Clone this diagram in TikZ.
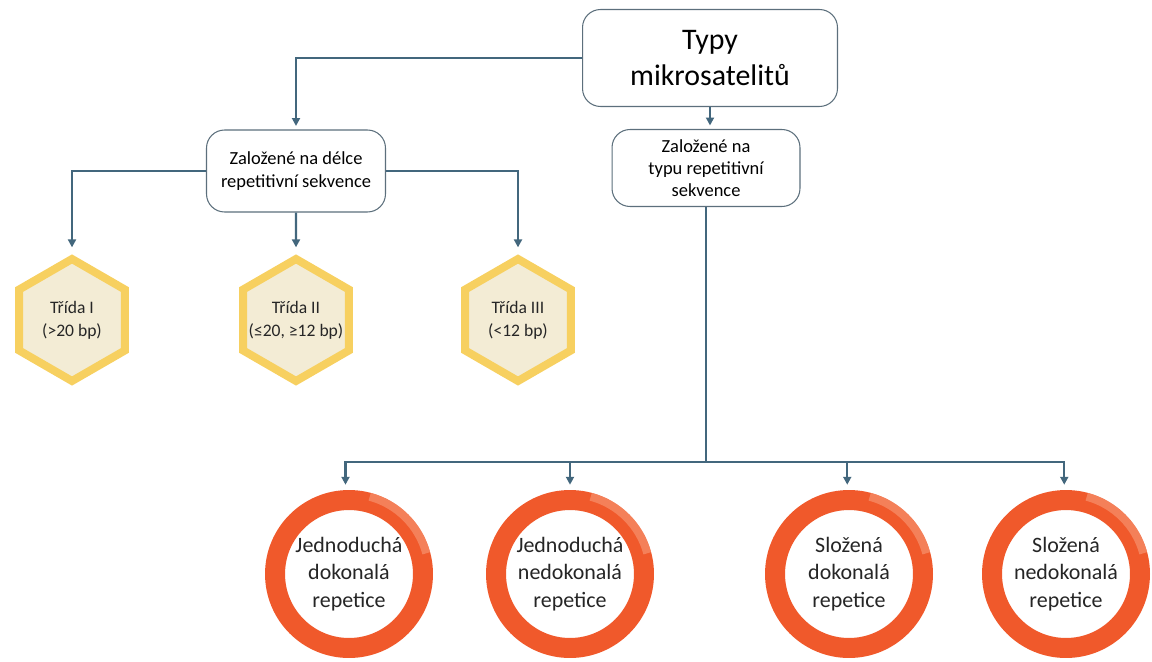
\documentclass[tikz,border=0pt]{standalone}
\usepackage{fontspec}
\setmainfont{Carlito}
\usetikzlibrary{positioning, arrows.meta, calc, shapes.geometric}
\definecolor{myline}{HTML}{43677D}
\definecolor{myboxdraw}{HTML}{5C6F7C}
\definecolor{myhexdraw}{HTML}{F7D060}
\definecolor{myhexfill}{HTML}{F3ECD5}
\definecolor{myring}{HTML}{F0592B}
\definecolor{myringlight}{HTML}{F79A78}

\begin{document}
\begin{tikzpicture}[
  x=0.02cm, y=-0.02cm,
  box/.style={rectangle, rounded corners=0.36cm, draw=myboxdraw, fill=white, line width=0.6pt,
    align=center, inner sep=0pt},
  hexa/.style={regular polygon, regular polygon sides=6, shape border rotate=30, draw=myhexdraw,
    fill=myhexfill, line width=0.16cm, minimum size=2.44cm, align=center, inner sep=-10pt,
    text=black!85, font=\fontsize{10}{13}\selectfont},
  ring/.style={circle, draw=myring, fill=white, line width=0.4cm, minimum size=2.96cm,
    align=center, inner sep=-10pt, text=black!85, font=\fontsize{12.5}{15.6}\selectfont},
  arr/.style={-{Triangle[length=4.5pt, width=4.5pt]}, myline, line width=1.4pt},
  line/.style={myline, line width=1.4pt}
]
\useasboundingbox (0,0) rectangle (1152,662);

% boxes
\node[box, minimum width=5.1cm, minimum height=1.94cm, font=\fontsize{17}{20}\selectfont] (typy) at (710,58) {Typy\\mikrosatelitů};
\node[box, minimum width=3.58cm, minimum height=1.64cm, font=\fontsize{10.5}{13.5}\selectfont] (delka) at (296,171) {Založené na délce\\repetitivní sekvence};
\node[box, minimum width=3.76cm, minimum height=1.54cm, font=\fontsize{10.5}{12.5}\selectfont] (typ) at (706,168) {Založené na\\typu repetitivní\\sekvence};

% classes by length
\node[hexa] (h1) at (72,320) {Třída I\\(>20 bp)};
\node[hexa] (h2) at (296,320) {Třída II\\(≤20, ≥12 bp)};
\node[hexa] (h3) at (518,320) {Třída III\\(<12 bp)};

% classes by type
\node[ring] (c1) at (349,574) {Jednoduchá\\dokonalá\\repetice};
\node[ring] (c2) at (570,574) {Jednoduchá\\nedokonalá\\repetice};
\node[ring] (c3) at (849,574) {Složená\\dokonalá\\repetice};
\node[ring] (c4) at (1066,574) {Složená\\nedokonalá\\repetice};

\foreach \c in {c1,c2,c3,c4}
  \draw[myringlight, line width=0.16cm, opacity=0.6] ($(\c.center)+(15:1.6cm)$) arc[start angle=15, end angle=75, radius=1.6cm];

\coordinate (bus) at (706,462);

% connectors
\draw[arr, shorten >=2pt] (typy.west) -| (delka.north);
\draw[arr, shorten >=2pt] (typy.south) -- (typy.south |- typ.north);
\draw[arr, shorten >=4pt] (delka.west) -| (h1.north);
\draw[arr, shorten >=4pt] (delka.south) -- (h2.north);
\draw[arr, shorten >=4pt] (delka.east) -| (h3.north);
\draw[line] (typ.south) -- (bus);
\draw[arr, shorten >=3pt] (bus) -| ([xshift=-2pt]c1.north);
\draw[arr, shorten >=3pt] (bus) -| (c2.north);
\draw[arr, shorten >=3pt] (bus) -| ([xshift=-1pt]c3.north);
\draw[arr, shorten >=3pt] (bus) -| ([xshift=-1pt]c4.north);
\end{tikzpicture}
\end{document}
